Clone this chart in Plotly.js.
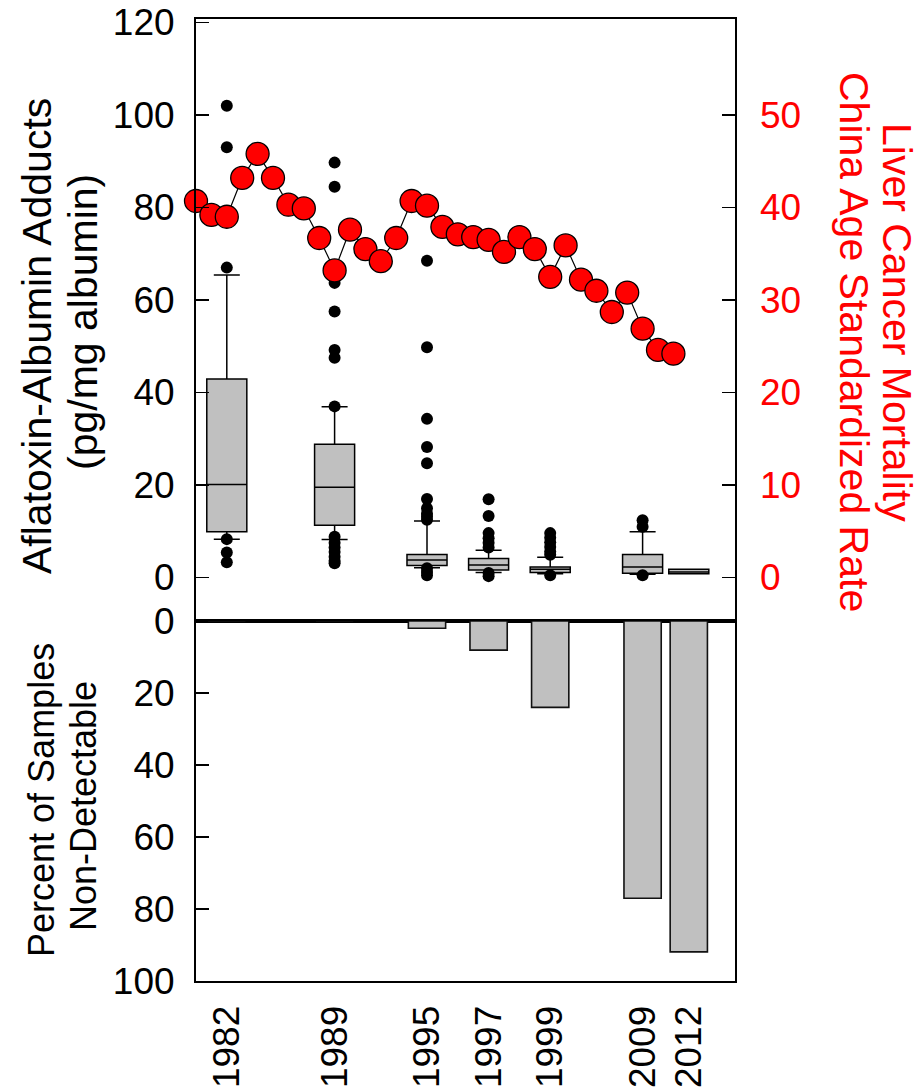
<!DOCTYPE html>
<html><head><meta charset="utf-8">
<script src="https://cdn.plot.ly/plotly-3.0.1.min.js"></script>
<style>html,body{margin:0;padding:0;background:#fff}#chart{width:923px;height:1089px}</style>
</head><body><div id="chart"></div>
<script>
// ---- data ----
const yearLabels = ['1982','1989','1995','1997','1999','2009','2012'];
const boxSlot    = [1982, 1989, 1995, 1999, 2003, 2009, 2012]; // position on the year scale
const q1         = [9.9, 11.3, 2.6, 1.6, 1.1, 0.9, 0.8];
const median     = [20.1, 19.5, 3.8, 2.7, 1.8, 2.3, 1.2];
const q3         = [42.9, 28.8, 5.0, 4.1, 2.3, 5.0, 1.8];
const lowerFence = [8.3, 8.2, 2.1, 1.1, 0.8, 0.7, 0.8];
const upperFence = [65.4, 36.9, 12.2, 5.9, 4.4, 9.9, 1.8];

const outliers1982 = [102, 93, 67, 8.3, 5.4, 3.3];
const outliers1989 = [89.7, 84.5, 63.7, 57.5, 49.2, 47.5, 37, 8.8, 7.5, 6.5, 5.5, 4.5, 3.6, 3.1];
const outliers1995 = [68.5, 49.8, 34.3, 28.2, 24.7, 17.0, 15.0, 13.8, 13.2, 12.5, 2.0, 1.2, 0.5];
const outliers1997 = [16.9, 13.3, 9.6, 8.5, 7.5, 6.5, 1.0, 0.3];
const outliers1999 = [9.6, 8.6, 7.6, 6.6, 5.6, 4.9, 0.5];
const outliers2009 = [12.4, 11.0, 0.5];
const outliers2012 = [];

const mortYears = [1980,1981,1982,1983,1984,1985,1986,1987,1988,1989,1990,1991,1992,1993,1994,1995,
                   1996,1997,1998,1999,2000,2001,2002,2003,2004,2005,2006,2007,2008,2009,2010,2011];
const mortRate  = [40.7,39.2,39.0,43.2,45.8,43.2,40.3,39.9,36.7,33.2,37.6,35.5,34.2,36.7,40.7,40.2,
                   37.9,37.1,36.8,36.5,35.2,36.8,35.5,32.5,35.9,32.2,31.0,28.7,30.8,26.9,24.6,24.2];

const nonDetectPct = [0, 0, 2.0, 8.1, 24.0, 77.0, 91.9];

const leftTicks   = [0,20,40,60,80,100,120];
const rightTicks  = [0,10,20,30,40,50];
const bottomTicks = [0,20,40,60,80,100];

// ---- build ----
const allOutliers = [outliers1982, outliers1989, outliers1995, outliers1997, outliers1999, outliers2009, outliers2012];
const outX = [], outY = [];
allOutliers.forEach((arr, i) => arr.forEach(v => { outX.push(boxSlot[i]); outY.push(v); }));

const FONT = '"Liberation Sans", Arial, Helvetica, sans-serif';

const traces = [
  {type:'box', x: boxSlot, q1: q1, median: median, q3: q3,
   lowerfence: lowerFence, upperfence: upperFence,
   width: 2.6, whiskerwidth: 0.65, boxpoints: false,
   fillcolor: '#c0c0c0', line: {color:'#000', width:1.5},
   xaxis:'x', yaxis:'y', hoverinfo:'skip'},
  {type:'scatter', mode:'markers', x: outX, y: outY,
   marker:{size:12, color:'#000'}, xaxis:'x', yaxis:'y', hoverinfo:'skip'},
  {type:'scatter', mode:'lines+markers', x: mortYears, y: mortRate,
   line:{color:'#000', width:1.2},
   marker:{size:23, color:'#ff0000', line:{color:'#000', width:1.3}},
   cliponaxis:false, xaxis:'x', yaxis:'y2', hoverinfo:'skip'},
  {type:'bar', x: boxSlot, y: nonDetectPct, width: 2.42,
   marker:{color:'#c0c0c0', line:{color:'#111', width:1.6}},
   xaxis:'x2', yaxis:'y3', hoverinfo:'skip'}
];

const L = 196, R = 188, T = 19, B = 108, W = 923, H = 1089;
const pw = W - L - R, ph = H - T - B;
const px = v => (v - L) / pw;
const py = v => (H - B - v) / ph;
const split = py(621);

function ann(text, x, y, angle, color, size) {
  return {text: text, xref:'paper', yref:'paper', x: px(x), y: py(y),
          xanchor:'center', yanchor:'middle', showarrow:false, textangle: angle,
          font:{family: FONT, size: size, color: color}};
}

const axisCommon = {showgrid:false, zeroline:false, linecolor:'#000', linewidth:2,
                    tickcolor:'#000', tickwidth:1.5, ticklen:13};

const layout = {
  width: W, height: H,
  margin:{l:L, r:R, t:T, b:B, pad:0},
  paper_bgcolor:'#fff', plot_bgcolor:'rgba(0,0,0,0)',
  showlegend:false,
  font:{family: FONT, size:37, color:'#000'},
  xaxis: Object.assign({}, axisCommon, {domain:[0,1], range:[1980,2015], anchor:'y',
          showticklabels:false, ticks:'', showline:true, mirror:true}),
  yaxis: Object.assign({}, axisCommon, {domain:[split,1], range:[-9.4,120.75], anchor:'x',
          tickmode:'array', tickvals:leftTicks, ticks:'inside', showline:true, mirror:true,
          ticklabelstandoff:12}),
  yaxis2: Object.assign({}, axisCommon, {overlaying:'y', side:'right', anchor:'x',
          range:[-4.7,60.375], tickmode:'array', tickvals:rightTicks, ticks:'inside',
          showline:false, tickfont:{color:'#ff0000', size:37, family:FONT},
          ticklabelstandoff:24}),
  xaxis2: Object.assign({}, axisCommon, {domain:[0,1], range:[1980,2015], anchor:'y3',
          tickmode:'array', tickvals:boxSlot, ticktext:yearLabels, tickangle:-90,
          ticks:'', showline:true, mirror:true, ticklabelstandoff:8}),
  yaxis3: Object.assign({}, axisCommon, {domain:[0,split], range:[100,0], anchor:'x2',
          tickmode:'array', tickvals:bottomTicks, ticks:'inside', showline:true, mirror:true,
          ticklabelstandoff:12}),
  annotations: [
    ann('Aflatoxin-Albumin Adducts', 37, 336, -90, '#000', 41),
    ann('(pg/mg albumin)', 83, 322, -90, '#000', 41),
    ann('Percent of Samples', 41, 800, -90, '#000', 36),
    ann('Non-Detectable', 83, 806, -90, '#000', 36),
    ann('Liver Cancer Mortality', 897, 322, 90, '#ff0000', 41),
    ann('China Age Standardized Rate', 854, 342, 90, '#ff0000', 41)
  ]
};

Plotly.newPlot('chart', traces, layout, {displayModeBar:false, staticPlot:true});
</script>
</body></html>
